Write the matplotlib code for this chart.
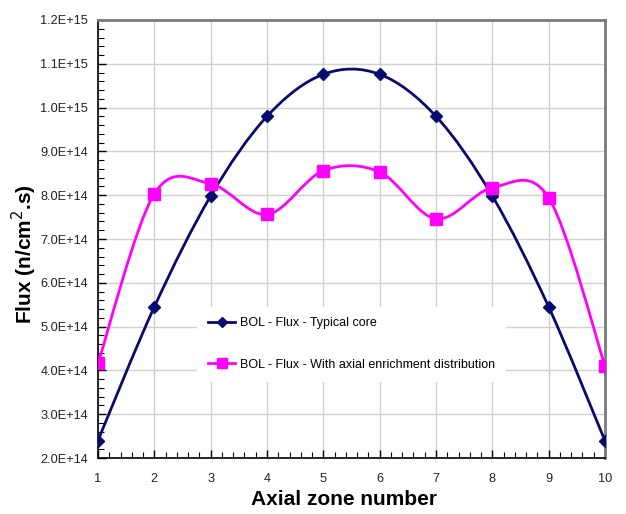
import matplotlib.pyplot as plt
from matplotlib.path import Path
from matplotlib.patches import PathPatch
from matplotlib.lines import Line2D
from matplotlib.ticker import MultipleLocator, FuncFormatter

# Data (flux in n/cm2.s)
zones = [1, 2, 3, 4, 5, 6, 7, 8, 9, 10]
flux_typical = [2.40e14, 5.45e14, 7.98e14, 9.80e14, 1.076e15,
                1.076e15, 9.80e14, 7.98e14, 5.45e14, 2.39e14]
flux_enriched = [4.16e14, 8.03e14, 8.26e14, 7.56e14, 8.56e14,
                 8.53e14, 7.46e14, 8.17e14, 7.94e14, 4.10e14]

label_typical = "BOL - Flux - Typical core"
label_enriched = "BOL - Flux - With axial enrichment distribution"

sans = ['Liberation Sans', 'DejaVu Sans']


# Excel-style smoothed line, drawn as bezier path in data coordinates
def smooth_path(x, y):
    n = len(x)
    verts = [(x[0], y[0])]
    codes = [Path.MOVETO]
    for i in range(n - 1):
        p0 = i - 1 if i > 0 else 0
        p3 = i + 2 if i + 2 < n else n - 1
        c1 = (x[i] + (x[i + 1] - x[p0]) / 6, y[i] + (y[i + 1] - y[p0]) / 6)
        c2 = (x[i + 1] - (x[p3] - x[i]) / 6, y[i + 1] - (y[p3] - y[i]) / 6)
        verts += [c1, c2, (x[i + 1], y[i + 1])]
        codes += [Path.CURVE4] * 3
    return Path(verts, codes)


fig = plt.figure(figsize=(6.26, 5.14), dpi=100)
ax = fig.add_axes([0.1565, 0.1089, 0.81, 0.8522])

c_typ = '#0a0a6e'
c_enr = '#ff00ff'

ax.add_patch(PathPatch(smooth_path(zones, flux_typical), fill=False,
                       edgecolor=c_typ, lw=2, zorder=3))
ax.plot(zones, flux_typical, ls='none', marker='D', ms=6.5, color=c_typ, zorder=4)
ax.add_patch(PathPatch(smooth_path(zones, flux_enriched), fill=False,
                       edgecolor=c_enr, lw=2, zorder=5))
ax.plot(zones, flux_enriched, ls='none', marker='s', ms=8, color=c_enr, zorder=6)

ax.set_xlim(1, 10)
ax.set_ylim(2.0e14, 1.2e15)
ax.xaxis.set_major_locator(MultipleLocator(1))
ax.xaxis.set_minor_locator(MultipleLocator(0.2))
ax.yaxis.set_major_locator(MultipleLocator(1e14))
ax.yaxis.set_minor_locator(MultipleLocator(2e13))


def sci(v, pos):
    m, e = f"{v:.1E}".split("E")
    return f"{m}E+{int(e)}"


ax.yaxis.set_major_formatter(FuncFormatter(sci))
ax.tick_params(which='both', direction='in', colors='black')
ax.tick_params(which='major', length=6, width=1)
ax.tick_params(which='minor', length=4, width=0.8)
ax.tick_params(axis='both', labelsize=9.2)
ax.tick_params(axis='y', pad=7)
ax.tick_params(axis='x', pad=11)
for t in ax.get_xticklabels() + ax.get_yticklabels():
    t.set_family(sans)
    t.set_color('#222222')

ax.grid(True, which='major', color='#d0d0d0', lw=1)
ax.set_axisbelow(True)
for s in ['top', 'right']:
    ax.spines[s].set_color('#7a7a7a')
    ax.spines[s].set_linewidth(2)
for s in ['left', 'bottom']:
    ax.spines[s].set_color('black')
    ax.spines[s].set_linewidth(1.2)

ax.set_xlabel("Axial zone number", family=sans, weight='bold', fontsize=15)
ax.set_ylabel("Flux (n/cm$^2$.s)", family=sans, weight='bold', fontsize=15)
ax.xaxis.set_label_coords(0.486, -0.073)
ax.yaxis.set_label_coords(-0.116, 0.466)

handles = [Line2D([], [], color=c_typ, lw=2, marker='D', ms=5),
           Line2D([], [], color=c_enr, lw=2, marker='s', ms=7)]
leg = ax.legend(handles, [label_typical, label_enriched], loc='upper left',
                bbox_to_anchor=(0.183, 0.36), frameon=True, fancybox=False,
                edgecolor='none', facecolor='white', framealpha=1,
                handlelength=2.2, handletextpad=0.4, labelspacing=2.36,
                borderpad=0.86, prop={'family': sans, 'size': 9})
leg.set_zorder(2)

fig.savefig('out.png', dpi=100)
